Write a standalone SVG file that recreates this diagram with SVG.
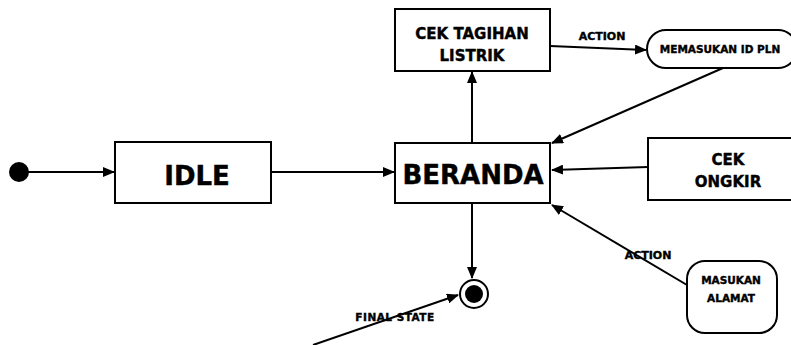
<svg xmlns="http://www.w3.org/2000/svg" width="791" height="345" viewBox="0 0 791 345">
<style>
.box{fill:#fff;stroke:#000;stroke-width:2}
.t{font-family:"DejaVu Sans","Liberation Sans",sans-serif;font-weight:bold;fill:#000;stroke:#000;stroke-width:0.4;text-anchor:middle}
.c{stroke:#000;stroke-width:2;fill:none}
</style>
<defs>
<marker id="ah" markerWidth="12" markerHeight="10" refX="11" refY="5" orient="auto" markerUnits="userSpaceOnUse">
<path d="M0,0 L12,5 L0,10 Z" fill="#000"/>
</marker>
</defs>
<rect width="791" height="345" fill="#fff"/>
<g id="connectors">
<line class="c" x1="28" y1="172" x2="114" y2="172" marker-end="url(#ah)"/>
<line class="c" x1="271" y1="172" x2="394" y2="172" marker-end="url(#ah)"/>
<line class="c" x1="472" y1="143" x2="472" y2="72" marker-end="url(#ah)"/>
<line class="c" x1="550" y1="46" x2="646" y2="50" marker-end="url(#ah)"/>
<line class="c" x1="723" y1="68" x2="552" y2="143" marker-end="url(#ah)"/>
<line class="c" x1="648" y1="167" x2="552" y2="170" marker-end="url(#ah)"/>
<line class="c" x1="687" y1="285" x2="552" y2="205" marker-end="url(#ah)"/>
<line class="c" x1="472" y1="203" x2="472" y2="278" marker-end="url(#ah)"/>
<line class="c" x1="313" y1="345" x2="458" y2="295" marker-end="url(#ah)"/>
<text class="t" x="602" y="40" font-size="11">ACTION</text>
<text class="t" x="648" y="259" font-size="11">ACTION</text>
<text class="t" x="395" y="321" font-size="10.5" letter-spacing="0.5">FINAL STATE</text>
</g>
<g id="initial"><circle cx="19" cy="172" r="10" fill="#000"/></g>
<g id="idle">
<rect class="box" x="115" y="142" width="156" height="61"/>
<text class="t" x="197" y="185" font-size="26">IDLE</text>
</g>
<g id="beranda">
<rect class="box" x="395" y="143" width="155" height="60"/>
<text class="t" x="473" y="184" font-size="26">BERANDA</text>
</g>
<g id="cek-tagihan">
<rect class="box" x="395" y="9" width="155" height="62"/>
<text class="t" x="472" y="39" font-size="15">CEK TAGIHAN</text>
<text class="t" x="472" y="61" font-size="15">LISTRIK</text>
</g>
<g id="memasukan-id-pln">
<rect class="box" x="647" y="30" width="150" height="38" rx="19"/>
<text class="t" x="720" y="53" font-size="10.5">MEMASUKAN ID PLN</text>
</g>
<g id="cek-ongkir">
<rect class="box" x="648" y="138" width="150" height="62"/>
<text class="t" x="728" y="165" font-size="15">CEK</text>
<text class="t" x="728" y="187" font-size="15">ONGKIR</text>
</g>
<g id="masukan-alamat">
<rect class="box" x="687" y="261" width="90" height="72" rx="18"/>
<text class="t" x="731" y="284" font-size="10.5">MASUKAN</text>
<text class="t" x="731" y="302" font-size="10.5">ALAMAT</text>
</g>
<g id="final">
<circle cx="474" cy="294" r="14" fill="#fff" stroke="#000" stroke-width="2"/>
<circle cx="474" cy="294" r="9" fill="#000"/>
</g>
</svg>
